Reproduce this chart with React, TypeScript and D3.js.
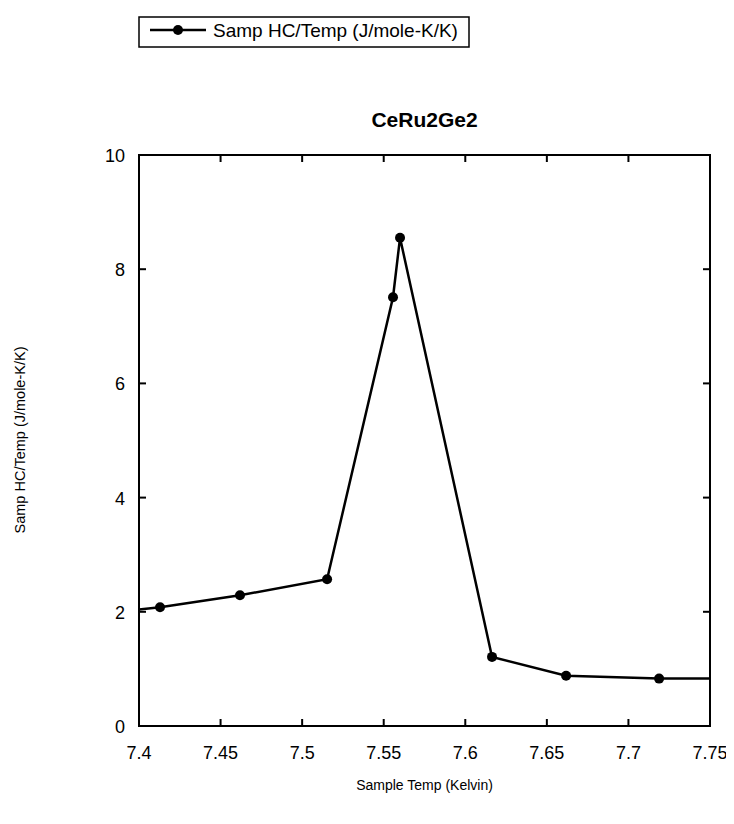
import * as d3 from 'd3'
import { useEffect, useRef } from 'react'

const temps = [7.365, 7.4129, 7.4619, 7.5153, 7.5557, 7.56, 7.6164, 7.6618, 7.7188, 7.775]
const hcOverT = [1.94, 2.08, 2.29, 2.57, 7.51, 8.55, 1.21, 0.88, 0.83, 0.83]
const xTicks = [7.4, 7.45, 7.5, 7.55, 7.6, 7.65, 7.7, 7.75]
const yTicks = [0, 2, 4, 6, 8, 10]

export default function App() {
  const ref = useRef<SVGSVGElement | null>(null)

  useEffect(() => {
    if (!ref.current) return
    const width = 734
    const height = 824
    const margin = { top: 155, right: 24, bottom: 98, left: 139 }
    const font = 'Arial, "Liberation Sans", sans-serif'

    const svg = d3.select(ref.current)
    svg.selectAll('*').remove()

    const x = d3.scaleLinear().domain([7.4, 7.75]).range([margin.left, width - margin.right])
    const y = d3.scaleLinear().domain([0, 10]).range([height - margin.bottom, margin.top])

    const data = temps.map((t, i) => ({ t, v: hcOverT[i] }))

    svg.append('defs').append('clipPath').attr('id', 'plot-clip')
      .append('rect')
      .attr('x', margin.left).attr('y', margin.top)
      .attr('width', x(7.75) - x(7.4)).attr('height', y(0) - y(10))

    const line = d3.line<typeof data[number]>().x(d => x(d.t)).y(d => y(d.v))

    const g = svg.append('g').attr('clip-path', 'url(#plot-clip)')
    g.append('path')
      .datum(data)
      .attr('fill', 'none')
      .attr('stroke', '#000')
      .attr('stroke-width', 2.5)
      .attr('d', line)
    g.selectAll('circle')
      .data(data)
      .join('circle')
      .attr('cx', d => x(d.t))
      .attr('cy', d => y(d.v))
      .attr('r', 5)
      .attr('fill', '#000')

    // frame
    svg.append('rect')
      .attr('x', x(7.4)).attr('y', y(10))
      .attr('width', x(7.75) - x(7.4)).attr('height', y(0) - y(10))
      .attr('fill', 'none').attr('stroke', '#000').attr('stroke-width', 2)

    // ticks, inward
    const tickLen = 7
    const tk = (sel: any) => sel.attr('stroke', '#000').attr('stroke-width', 2)
    svg.append('g').selectAll('line')
      .data(xTicks.slice(1, -1))
      .join('line')
      .attr('x1', d => x(d)).attr('x2', d => x(d))
      .attr('y1', y(0)).attr('y2', y(0) - tickLen)
      .call(tk)
    svg.append('g').selectAll('line')
      .data(xTicks.slice(1, -1))
      .join('line')
      .attr('x1', d => x(d)).attr('x2', d => x(d))
      .attr('y1', y(10)).attr('y2', y(10) + tickLen)
      .call(tk)
    svg.append('g').selectAll('line')
      .data(yTicks.slice(1, -1))
      .join('line')
      .attr('x1', x(7.4)).attr('x2', x(7.4) + tickLen)
      .attr('y1', d => y(d)).attr('y2', d => y(d))
      .call(tk)
    svg.append('g').selectAll('line')
      .data(yTicks.slice(1, -1))
      .join('line')
      .attr('x1', x(7.75)).attr('x2', x(7.75) - tickLen)
      .attr('y1', d => y(d)).attr('y2', d => y(d))
      .call(tk)

    // tick labels
    svg.append('g').selectAll('text')
      .data(xTicks)
      .join('text')
      .attr('x', d => x(d)).attr('y', y(0) + 33)
      .attr('text-anchor', 'middle')
      .attr('font-family', font).attr('font-size', 18)
      .text(d => d3.format('')(d))
    svg.append('g').selectAll('text')
      .data(yTicks)
      .join('text')
      .attr('x', x(7.4) - 14).attr('y', d => y(d) + 7)
      .attr('text-anchor', 'end')
      .attr('font-family', font).attr('font-size', 18)
      .text(d => d)

    // titles
    const cx = (x(7.4) + x(7.75)) / 2
    svg.append('text')
      .attr('x', cx).attr('y', 127)
      .attr('text-anchor', 'middle')
      .attr('font-family', font).attr('font-size', 21).attr('font-weight', 'bold')
      .text('CeRu2Ge2')
    svg.append('text')
      .attr('x', cx).attr('y', 790)
      .attr('text-anchor', 'middle')
      .attr('font-family', font).attr('font-size', 14)
      .text('Sample Temp (Kelvin)')
    svg.append('text')
      .attr('transform', `translate(25, 440) rotate(-90)`)
      .attr('text-anchor', 'middle')
      .attr('font-family', font).attr('font-size', 14.5)
      .text('Samp HC/Temp (J/mole-K/K)')

    // legend
    const lg = svg.append('g')
    lg.append('rect')
      .attr('x', 139).attr('y', 17).attr('width', 330).attr('height', 30)
      .attr('fill', '#fff').attr('stroke', '#000').attr('stroke-width', 1.5)
    lg.append('line')
      .attr('x1', 150).attr('x2', 206).attr('y1', 30).attr('y2', 30)
      .attr('stroke', '#000').attr('stroke-width', 2.5)
    lg.append('circle').attr('cx', 178).attr('cy', 30).attr('r', 5).attr('fill', '#000')
    lg.append('text')
      .attr('x', 213).attr('y', 37)
      .attr('font-family', font).attr('font-size', 19)
      .text('Samp HC/Temp (J/mole-K/K)')
  }, [])

  return <svg ref={ref} width={734} height={824} style={{ display: 'block', margin: -8 }} />
}
